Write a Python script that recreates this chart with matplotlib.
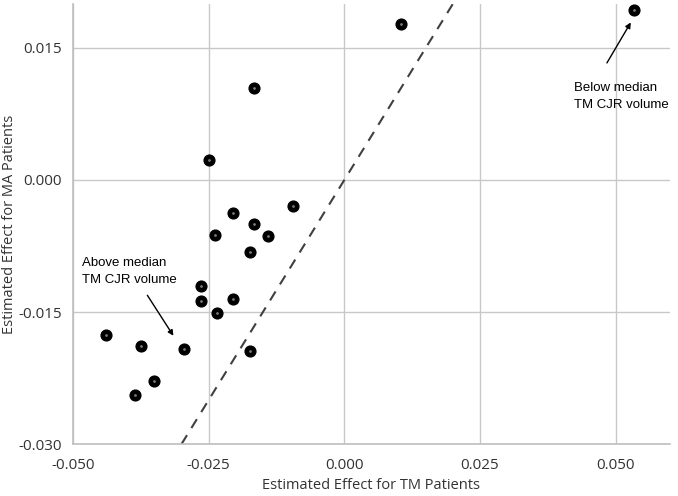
import matplotlib
matplotlib.use("Agg")
import matplotlib.pyplot as plt

plt.rcParams['axes.unicode_minus'] = False

tm_effect = [0.0104, 0.0534, -0.0167, -0.0249, -0.0095, -0.0206, -0.0167, -0.0238,
             -0.0141, -0.0174, -0.0265, -0.0265, -0.0206, -0.0234, -0.0296, -0.0173,
             -0.0440, -0.0374, -0.0351, -0.0385]
ma_effect = [0.0177, 0.0193, 0.0104, 0.0023, -0.0029, -0.0038, -0.0050, -0.0063,
             -0.0064, -0.0082, -0.0121, -0.0138, -0.0135, -0.0151, -0.0192, -0.0194,
             -0.0176, -0.0189, -0.0228, -0.0244]
x_ticks = [-0.050, -0.025, 0.000, 0.025, 0.050]
y_ticks = [-0.030, -0.015, 0.000, 0.015]

fig = plt.figure(figsize=(6.78, 4.96), dpi=100)
ax = fig.add_axes([0.1077, 0.1048, 0.8803, 0.8872])

ax.set_xlim(-0.05, 0.06)
ax.set_ylim(-0.03, 0.02)
ax.set_xticks(x_ticks)
ax.set_yticks(y_ticks)
ax.set_xticklabels([f"{v:.3f}" for v in x_ticks])
ax.set_yticklabels([f"{v:.3f}" for v in y_ticks])

ax.grid(True, color='#c8c8c8', linewidth=1.0)
ax.set_axisbelow(True)
for s in ['top', 'right']:
    ax.spines[s].set_visible(False)
for s in ['left', 'bottom']:
    ax.spines[s].set_color('#bfbfbf')
    ax.spines[s].set_linewidth(1.2)
ax.tick_params(axis='x', length=0, pad=10, labelsize=11, labelcolor='#333333')
ax.tick_params(axis='y', length=0, pad=8, labelsize=11, labelcolor='#333333')
for lab in ax.get_xticklabels() + ax.get_yticklabels():
    lab.set_fontfamily('Open Sans')

ax.axline((0, 0), slope=1, color='#404040', linestyle=(0, (5, 4)), linewidth=1.5, zorder=2)

ax.scatter(tm_effect, ma_effect, s=60, color='black', zorder=3)
ax.scatter(tm_effect, ma_effect, s=1.0, color='#777777', zorder=4)

ax.set_xlabel('Estimated Effect for TM Patients', fontfamily='Open Sans', fontsize=10.5,
              color='#333333', labelpad=4)
ax.set_ylabel('Estimated Effect for MA Patients', fontfamily='Open Sans', fontsize=10.5,
              color='#333333', labelpad=1)

ax.text(0.0423, 0.0095, 'Below median\nTM CJR volume', fontsize=9.5,
        fontfamily='Liberation Sans', color='black', ha='left', va='center',
        linespacing=1.55)
ax.annotate('', xy=(0.0528, 0.0179), xytext=(0.0484, 0.0133),
            arrowprops=dict(arrowstyle='-|>', color='black', lw=1.0,
                            shrinkA=0, shrinkB=0, mutation_scale=8))

ax.text(-0.0484, -0.0104, 'Above median\nTM CJR volume', fontsize=9.5,
        fontfamily='Liberation Sans', color='black', ha='left', va='center',
        linespacing=1.55)
ax.annotate('', xy=(-0.0315, -0.0177), xytext=(-0.0363, -0.0131),
            arrowprops=dict(arrowstyle='-|>', color='black', lw=1.0,
                            shrinkA=0, shrinkB=0, mutation_scale=8))

fig.savefig('out.png', dpi=100)
